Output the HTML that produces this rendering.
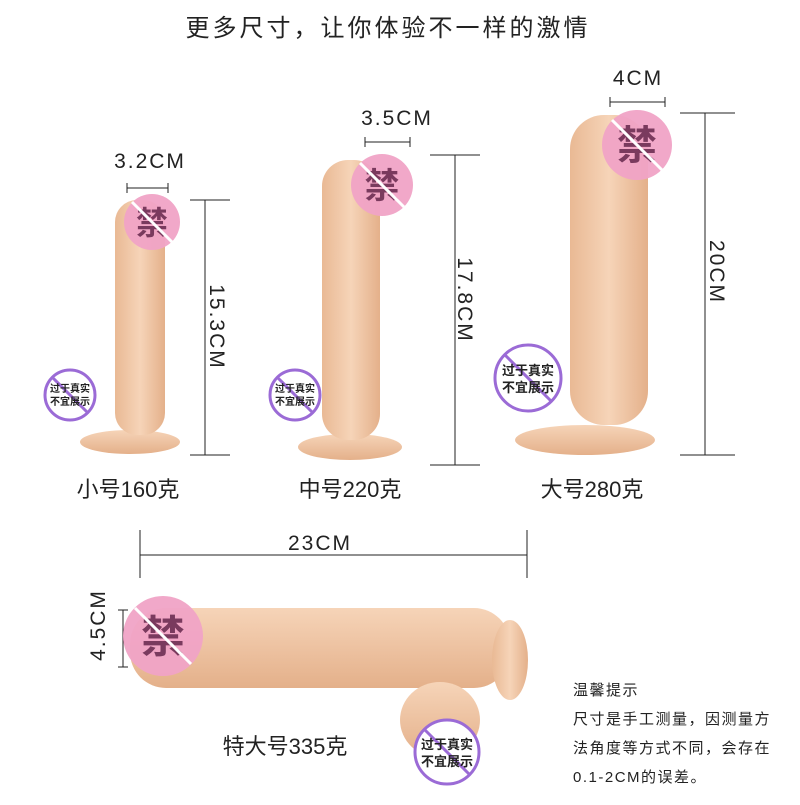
<!DOCTYPE html>
<html><head><meta charset="utf-8"><style>
body{margin:0;width:800px;height:800px;background:#fff;overflow:hidden;font-family:"Liberation Sans","Noto Sans CJK SC",sans-serif;}
</style></head><body>
<svg width="800" height="800" xmlns="http://www.w3.org/2000/svg" style="font-family:'Liberation Sans','Noto Sans CJK SC',sans-serif">
<defs>
<linearGradient id="sk" x1="0" x2="1"><stop offset="0" stop-color="#e9b994"/><stop offset="0.5" stop-color="#f6d4b8"/><stop offset="1" stop-color="#e4b08a"/></linearGradient>
<linearGradient id="skv" x1="0" y1="0" x2="0" y2="1"><stop offset="0" stop-color="#f6d4b8"/><stop offset="1" stop-color="#e4b08a"/></linearGradient>
</defs>
<text x="388" y="36" text-anchor="middle" font-size="24" fill="#222" letter-spacing="3">更多尺寸，让你体验不一样的激情</text>

<g stroke="#222" stroke-width="1" fill="none">
<line x1="127" y1="188" x2="168" y2="188"/><line x1="127" y1="183" x2="127" y2="193"/><line x1="168" y1="183" x2="168" y2="193"/>
<line x1="205" y1="200" x2="205" y2="455"/><line x1="190" y1="200" x2="230" y2="200"/><line x1="190" y1="455" x2="230" y2="455"/>
<line x1="365" y1="142" x2="410" y2="142"/><line x1="365" y1="137" x2="365" y2="147"/><line x1="410" y1="137" x2="410" y2="147"/>
<line x1="455" y1="155" x2="455" y2="465"/><line x1="430" y1="155" x2="480" y2="155"/><line x1="430" y1="465" x2="480" y2="465"/>
<line x1="610" y1="102" x2="665" y2="102"/><line x1="610" y1="97" x2="610" y2="107"/><line x1="665" y1="97" x2="665" y2="107"/>
<line x1="705" y1="113" x2="705" y2="455"/><line x1="680" y1="113" x2="735" y2="113"/><line x1="680" y1="455" x2="735" y2="455"/>
<line x1="140" y1="555" x2="527" y2="555"/><line x1="140" y1="530" x2="140" y2="578"/><line x1="527" y1="530" x2="527" y2="578"/>
<line x1="123" y1="610" x2="123" y2="667"/><line x1="118" y1="610" x2="128" y2="610"/><line x1="118" y1="667" x2="128" y2="667"/>
</g>
<g font-size="21" fill="#222" letter-spacing="2">
<text x="150" y="168" text-anchor="middle">3.2CM</text>
<text x="397" y="125" text-anchor="middle">3.5CM</text>
<text x="638" y="85" text-anchor="middle">4CM</text>
<text x="320" y="550" text-anchor="middle">23CM</text>
<text transform="translate(210,327) rotate(90)" text-anchor="middle">15.3CM</text>
<text transform="translate(458,300) rotate(90)" text-anchor="middle">17.8CM</text>
<text transform="translate(710,272) rotate(90)" text-anchor="middle">20CM</text>
<text transform="translate(105,625) rotate(-90)" text-anchor="middle">4.5CM</text>
</g>
<g font-size="22" fill="#222">
<text x="128" y="497" text-anchor="middle">小号160克</text>
<text x="350" y="497" text-anchor="middle">中号220克</text>
<text x="592" y="497" text-anchor="middle">大号280克</text>
<text x="285" y="754" text-anchor="middle">特大号335克</text>
</g>

<ellipse cx="130" cy="442" rx="50" ry="12" fill="url(#skv)"/>
<rect x="115" y="200" width="50" height="235" rx="22" fill="url(#sk)"/>
<ellipse cx="350" cy="447" rx="52" ry="13" fill="url(#skv)"/>
<rect x="322" y="160" width="58" height="280" rx="26" fill="url(#sk)"/>
<ellipse cx="585" cy="440" rx="70" ry="15" fill="url(#skv)"/>
<rect x="570" y="115" width="78" height="310" rx="34" fill="url(#sk)"/>
<rect x="130" y="608" width="380" height="80" rx="36" fill="url(#skv)"/>
<ellipse cx="510" cy="660" rx="18" ry="40" fill="url(#sk)"/>
<ellipse cx="440" cy="720" rx="40" ry="38" fill="url(#skv)"/>

<g font-weight="bold" text-anchor="middle">
<g><circle cx="152" cy="222" r="28" fill="#f0a3c6" opacity="0.95"/><text x="152" y="234" font-size="32" fill="#7a3a5e">禁</text><line x1="132" y1="202" x2="172" y2="242" stroke="#fff" stroke-width="3"/></g>
<g><circle cx="382" cy="185" r="31" fill="#f0a3c6" opacity="0.95"/><text x="382" y="198" font-size="35" fill="#7a3a5e">禁</text><line x1="360" y1="163" x2="404" y2="207" stroke="#fff" stroke-width="3"/></g>
<g><circle cx="637" cy="145" r="35" fill="#f0a3c6" opacity="0.95"/><text x="637" y="159" font-size="40" fill="#7a3a5e">禁</text><line x1="612" y1="120" x2="662" y2="170" stroke="#fff" stroke-width="3"/></g>
<g><circle cx="163" cy="636" r="40" fill="#f0a3c6" opacity="0.95"/><text x="163" y="652" font-size="44" fill="#7a3a5e">禁</text><line x1="135" y1="608" x2="191" y2="664" stroke="#fff" stroke-width="3"/></g>
</g>
<g text-anchor="middle" font-weight="bold" fill="#222">
<g><circle cx="70" cy="395" r="25" fill="#fff" stroke="#9b6bd6" stroke-width="3"/><line x1="52" y1="377" x2="88" y2="413" stroke="#9b6bd6" stroke-width="3"/><text x="70" y="392" font-size="10">过于真实</text><text x="70" y="405" font-size="10">不宜展示</text></g>
<g><circle cx="295" cy="395" r="25" fill="#fff" stroke="#9b6bd6" stroke-width="3"/><line x1="277" y1="377" x2="313" y2="413" stroke="#9b6bd6" stroke-width="3"/><text x="295" y="392" font-size="10">过于真实</text><text x="295" y="405" font-size="10">不宜展示</text></g>
<g><circle cx="528" cy="378" r="33" fill="#fff" stroke="#9b6bd6" stroke-width="3"/><line x1="505" y1="355" x2="551" y2="401" stroke="#9b6bd6" stroke-width="3"/><text x="528" y="375" font-size="13">过于真实</text><text x="528" y="392" font-size="13">不宜展示</text></g>
<g><circle cx="447" cy="752" r="32" fill="#fff" stroke="#9b6bd6" stroke-width="3"/><line x1="424" y1="729" x2="470" y2="775" stroke="#9b6bd6" stroke-width="3"/><text x="447" y="749" font-size="13">过于真实</text><text x="447" y="766" font-size="13">不宜展示</text></g>
</g>

<g font-size="15" fill="#222" letter-spacing="1.5">
<text x="573" y="695">温馨提示</text>
<text x="573" y="724">尺寸是手工测量，因测量方</text>
<text x="573" y="753">法角度等方式不同，会存在</text>
<text x="573" y="782">0.1-2CM的误差。</text>
</g>
</svg>
</body></html>
